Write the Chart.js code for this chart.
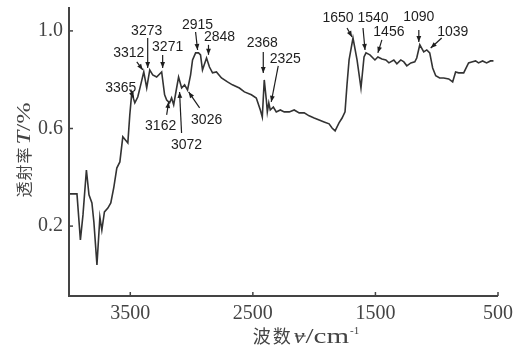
<!DOCTYPE html>
<html>
<head>
<meta charset="utf-8">
<script src="https://cdn.jsdelivr.net/npm/chart.js@4/dist/chart.umd.min.js"></script>
<style>
  html, body { margin: 0; padding: 0; background: #fff; }
  #wrap { width: 525px; height: 350px; }
</style>
</head>
<body>
<div id="wrap"><canvas id="irChart" width="525" height="350"></canvas></div>
<script>
// IR spectrum
const wavenumbers = [4000, 3935, 3907, 3886, 3858, 3837, 3813, 3797, 3772, 3748, 3732, 3711, 3683, 3659, 3634, 3610, 3585, 3561, 3520, 3504, 3488, 3463, 3439, 3415, 3390, 3366, 3341, 3317, 3285, 3244, 3220, 3203, 3179, 3163, 3146, 3122, 3106, 3081, 3057, 3033, 3008, 2992, 2967, 2943, 2927, 2911, 2878, 2854, 2829, 2797, 2756, 2707, 2667, 2610, 2569, 2512, 2472, 2439, 2423, 2407, 2390, 2382, 2370, 2358, 2333, 2309, 2276, 2244, 2203, 2163, 2122, 2081, 2041, 2000, 1959, 1919, 1878, 1854, 1829, 1797, 1772, 1748, 1732, 1715, 1683, 1650, 1618, 1593, 1577, 1545, 1504, 1480, 1447, 1415, 1390, 1350, 1325, 1293, 1268, 1244, 1211, 1179, 1163, 1138, 1106, 1081, 1057, 1033, 1008, 976, 943, 902, 870, 846, 821, 780, 740, 715, 683, 659, 626, 593, 561, 537];
const transmittance = [0.332, 0.332, 0.143, 0.246, 0.430, 0.328, 0.295, 0.217, 0.041, 0.237, 0.184, 0.258, 0.274, 0.295, 0.360, 0.438, 0.463, 0.566, 0.541, 0.656, 0.746, 0.705, 0.729, 0.779, 0.832, 0.766, 0.840, 0.820, 0.811, 0.832, 0.738, 0.717, 0.705, 0.725, 0.697, 0.766, 0.811, 0.766, 0.779, 0.758, 0.820, 0.881, 0.910, 0.910, 0.902, 0.840, 0.889, 0.852, 0.828, 0.832, 0.807, 0.791, 0.779, 0.766, 0.750, 0.738, 0.725, 0.676, 0.647, 0.799, 0.717, 0.668, 0.705, 0.676, 0.688, 0.668, 0.676, 0.668, 0.668, 0.676, 0.664, 0.664, 0.652, 0.643, 0.635, 0.627, 0.619, 0.602, 0.590, 0.623, 0.643, 0.668, 0.779, 0.881, 0.971, 0.881, 0.766, 0.893, 0.910, 0.902, 0.881, 0.893, 0.885, 0.881, 0.869, 0.881, 0.865, 0.881, 0.873, 0.857, 0.869, 0.873, 0.889, 0.943, 0.914, 0.922, 0.910, 0.848, 0.816, 0.807, 0.807, 0.803, 0.791, 0.832, 0.828, 0.828, 0.869, 0.873, 0.877, 0.869, 0.877, 0.869, 0.877, 0.877];

const xTicks = [3500, 2500, 1500, 500];
const yTicks = [0.2, 0.6, 1.0];

// peak labels: text, arrow tip (wavenumber, T)
const peakLabels = ['3365', '3312', '3273', '3271', '2915', '2848', '3162', '3072', '3026', '2368', '2325', '1650', '1540', '1456', '1090', '1039'];
const peakTipX = [3472, 3398, 3358, 3236, 2951, 2862, 3187, 3098, 3024, 2415, 2350, 1691, 1585, 1480, 1146, 1049];
const peakTipY = [0.725, 0.840, 0.848, 0.848, 0.922, 0.902, 0.709, 0.750, 0.750, 0.828, 0.709, 0.975, 0.922, 0.910, 0.955, 0.930];

// label placement (px, relative to tip): [labelDx, labelDy, arrowStartDx, arrowStartDy]
const labelPlace = [
    [-13, -10, -3, -7],
    [-14, -17, -6, -8],
    [-1, -37, 0, -30],
    [5, -21, 0, -13],
    [0, -25, -2, -18],
    [11, -18, 0, -10],
    [-8, 24, -2, 13],
    [7, 53, 2, 41],
    [18, 28, 11, 16],
    [-1, -30, 0, -21],
    [14, -43, 7, -36],
    [-14, -19, -5, -9],
    [8, -32, -2, -22],
    [11, -21, 4, -13],
    [0, -25, 0, -12],
    [22, -16, 11, -10]
];

const ink = '#333';
const cjk = '"Noto Sans CJK SC", sans-serif';
const serif = '"Liberation Serif", serif';

function arrow(ctx, x0, y0, x1, y1) {
    ctx.beginPath();
    ctx.moveTo(x0, y0);
    ctx.lineTo(x1, y1);
    ctx.stroke();
    const a = Math.atan2(y1 - y0, x1 - x0);
    const len = 6, w = 2.4;
    ctx.beginPath();
    ctx.moveTo(x1, y1);
    ctx.lineTo(x1 - len * Math.cos(a) + w * Math.sin(a), y1 - len * Math.sin(a) - w * Math.cos(a));
    ctx.lineTo(x1 - len * Math.cos(a) - w * Math.sin(a), y1 - len * Math.sin(a) + w * Math.cos(a));
    ctx.closePath();
    ctx.fill();
}

// draw a run of text parts centred at the current origin
// part: [text, font, stretch, gapAfter, baselineShift, overbar]
function drawParts(ctx, parts) {
    const widths = parts.map(p => { ctx.font = p[1]; return ctx.measureText(p[0]).width * p[2] + p[3]; });
    let x = -widths.reduce((a, b) => a + b, 0) / 2;
    parts.forEach((p, i) => {
        ctx.save();
        ctx.font = p[1];
        ctx.translate(x, p[4]);
        ctx.scale(p[2], 1);
        ctx.fillText(p[0], 0, 0);
        if (p[5]) {
            const w = ctx.measureText(p[0]).width;
            ctx.lineWidth = 1;
            ctx.beginPath();
            ctx.moveTo(1, -7);
            ctx.lineTo(w + 1, -7);
            ctx.stroke();
        }
        ctx.restore();
        x += widths[i];
    });
}

const decorations = {
    id: 'decorations',
    afterDraw(chart) {
        const ctx = chart.ctx;
        const xs = chart.scales.x, ys = chart.scales.y;
        const area = chart.chartArea;
        ctx.save();

        // axes lines (left and bottom only)
        ctx.strokeStyle = '#444';
        ctx.lineWidth = 2;
        ctx.beginPath();
        ctx.moveTo(area.left, area.top);
        ctx.lineTo(area.left, area.bottom);
        ctx.lineTo(area.right, area.bottom);
        ctx.stroke();

        // inward tick marks
        ctx.lineWidth = 1.5;
        xTicks.forEach(v => {
            const px = xs.getPixelForValue(v);
            ctx.beginPath();
            ctx.moveTo(px, area.bottom);
            ctx.lineTo(px, area.bottom - 4);
            ctx.stroke();
        });
        yTicks.forEach(v => {
            const py = ys.getPixelForValue(v);
            ctx.beginPath();
            ctx.moveTo(area.left, py);
            ctx.lineTo(area.left + 4, py);
            ctx.stroke();
        });

        // peak labels with arrows
        ctx.fillStyle = '#1e1e1e';
        ctx.strokeStyle = '#1e1e1e';
        ctx.lineWidth = 1.2;
        ctx.font = '14px "Liberation Sans", Arial, sans-serif';
        ctx.textAlign = 'center';
        ctx.textBaseline = 'middle';
        peakLabels.forEach((txt, i) => {
            const tx = xs.getPixelForValue(peakTipX[i]);
            const ty = ys.getPixelForValue(peakTipY[i]);
            const p = labelPlace[i];
            ctx.fillText(txt, tx + p[0], ty + p[1]);
            arrow(ctx, tx + p[2], ty + p[3], tx, ty);
        });

        // axis titles
        ctx.fillStyle = '#444';
        ctx.strokeStyle = '#444';
        ctx.textAlign = 'left';
        ctx.textBaseline = 'alphabetic';

        // y: 透射率 T/%
        ctx.save();
        ctx.translate(30, 150);
        ctx.rotate(-Math.PI / 2);
        drawParts(ctx, [
            ['透', '16px ' + cjk, 1, 1, 0],
            ['射', '16px ' + cjk, 1, 1, 0],
            ['率', '16px ' + cjk, 1, 3, 0],
            ['T', 'italic 19px ' + serif, 1.3, 0, 0],
            ['/%', '19px ' + serif, 1.35, 0, 0]
        ]);
        ctx.restore();

        // x: 波数 ν̄/cm-1
        ctx.save();
        ctx.translate(306, 343);
        drawParts(ctx, [
            ['波', '18px ' + cjk, 1, 2, 0],
            ['数', '18px ' + cjk, 1, 3, 0],
            ['ν', 'italic 20px ' + serif, 1.2, 1, 0, true],
            ['/cm', '20px ' + serif, 1.45, 1, 0],
            ['-1', '11px ' + serif, 1, 0, -9]
        ]);
        ctx.restore();

        ctx.restore();
    }
};

const ctx = document.getElementById('irChart').getContext('2d');
new Chart(ctx, {
    type: 'line',
    data: {
        datasets: [{
            data: wavenumbers.map((w, i) => ({ x: w, y: transmittance[i] })),
            borderColor: ink,
            borderWidth: 1.6,
            pointRadius: 0,
            fill: false,
            tension: 0
        }]
    },
    options: {
        responsive: false,
        animation: false,
        events: [],
        layout: {
            padding: { left: 0, top: 7, right: 27, bottom: 0 }
        },
        plugins: {
            legend: { display: false },
            tooltip: { enabled: false }
        },
        scales: {
            x: {
                type: 'linear',
                reverse: true,
                min: 500,
                max: 4000,
                afterBuildTicks(scale) {
                    scale.ticks = xTicks.map(v => ({ value: v }));
                },
                afterFit(scale) {
                    scale.height = 54;
                    scale.paddingLeft = 0;
                    scale.paddingRight = 0;
                },
                grid: { display: false, drawTicks: false },
                border: { display: false },
                ticks: {
                    padding: 6,
                    color: '#444',
                    font: { family: serif, size: 20 },
                    maxRotation: 0,
                    callback: v => String(v)
                }
            },
            y: {
                min: -0.0865,
                max: 1.098,
                afterBuildTicks(scale) {
                    scale.ticks = yTicks.map(v => ({ value: v }));
                },
                afterFit(scale) {
                    scale.width = 69;
                    scale.paddingTop = 0;
                    scale.paddingBottom = 0;
                },
                grid: { display: false, drawTicks: false },
                border: { display: false },
                ticks: {
                    padding: 6,
                    color: '#444',
                    font: { family: serif, size: 20 },
                    callback: v => v.toFixed(1)
                }
            }
        }
    },
    plugins: [decorations]
});
</script>
</body>
</html>
